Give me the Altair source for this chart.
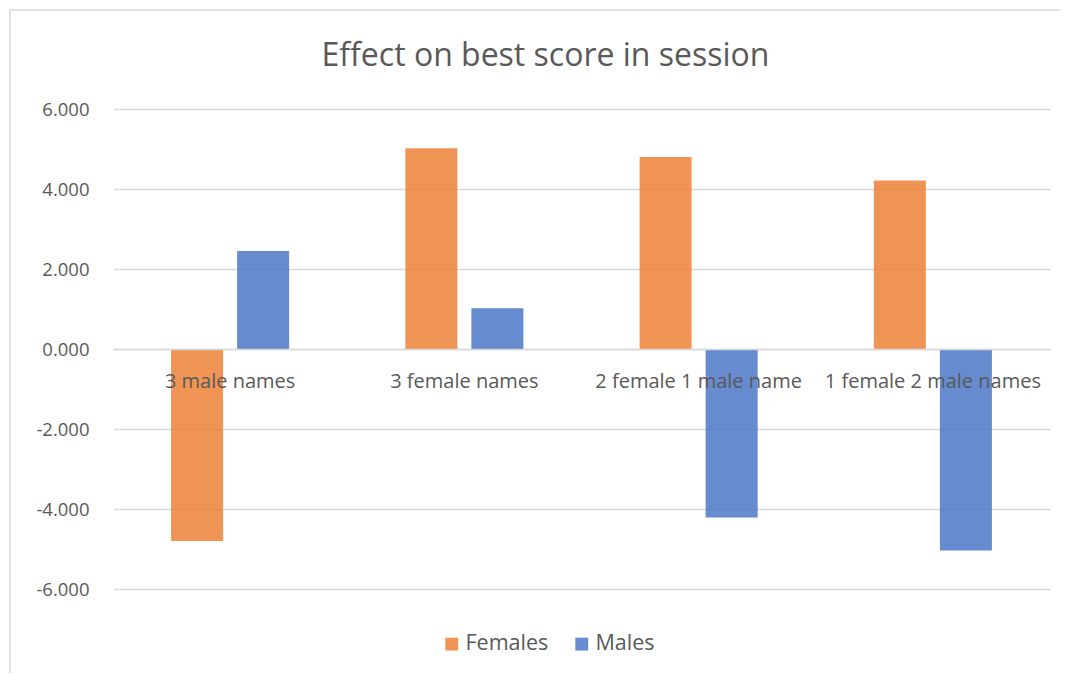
import altair as alt
import pandas as pd

categories = ["3 male names", "3 female names", "2 female 1 male name", "1 female 2 male names"]
females = [-4.80, 5.02, 4.80, 4.21]
males = [2.45, 1.02, -4.21, -5.04]
series = ["Females", "Males"]
colors = ["#ED7D31", "#4472C4"]

rows = []
for i, c in enumerate(categories):
    rows.append({"category": c, "series": "Females", "value": females[i]})
    rows.append({"category": c, "series": "Males", "value": males[i]})
df = pd.DataFrame(rows)

FONT = "Open Sans"
TXT = "#595959"

bars = alt.Chart(df).mark_bar(fillOpacity=0.82).encode(
    x=alt.X("category:N", sort=categories, title=None,
            scale=alt.Scale(paddingInner=0, paddingOuter=0),
            axis=alt.Axis(labelAngle=0, ticks=False, offset=-240, domainColor="#D9D9D9",
                          domainWidth=1.5, labelColor=TXT, labelFontSize=20, labelFont=FONT,
                          labelPadding=22, zindex=1, labelLimit=300)),
    xOffset=alt.XOffset("series:N", sort=series,
                        scale=alt.Scale(paddingInner=0.212, paddingOuter=0.88)),
    y=alt.Y("value:Q", title=None,
            scale=alt.Scale(domain=[-6, 6], nice=False),
            axis=alt.Axis(values=[-6, -4, -2, 0, 2, 4, 6], ticks=False, domain=False,
                          labelExpr="(datum.value < 0 ? '-' : '') + format(abs(datum.value), '.3f')",
                          gridColor="#D9D9D9", gridWidth=1.5, labelColor=TXT, labelFontSize=18.5,
                          labelFont=FONT, labelPadding=24)),
    color=alt.Color("series:N", sort=series, title=None,
                    scale=alt.Scale(domain=series, range=colors),
                    legend=alt.Legend(orient="none", legendX=328, legendY=524, direction="horizontal",
                                      symbolType="square", symbolSize=165, labelFontSize=21.5,
                                      labelFont=FONT, labelColor=TXT, columnPadding=22,
                                      labelOffset=3, symbolOpacity=0.82)),
)

frame = alt.Chart(pd.DataFrame({"a": [0]})).mark_rect(fill=None, stroke="#D9D9D9", strokeWidth=1.5).encode(
    x=alt.value(-103), x2=alt.value(1000), y=alt.value(-99), y2=alt.value(620)
)

chart = alt.layer(frame, bars).properties(
    width=937,
    height=480,
    title=alt.TitleParams("Effect on best score in session", fontSize=32, font=FONT, fontWeight="normal",
                          color=TXT, offset=-64, anchor="middle", dx=-36),
    autosize=alt.AutoSizeParams(type="none"),
    padding={"left": 105, "top": 101, "right": 10, "bottom": 84},
).configure(background="white").configure_view(stroke=None)

chart.save("out.html", embed_options={"renderer": "svg", "actions": False})
